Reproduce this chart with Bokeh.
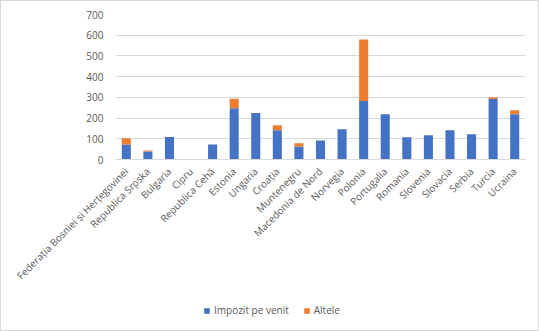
import math
from bokeh.plotting import figure
from bokeh.layouts import column
from bokeh.models import ColumnDataSource, FactorRange, Range1d, Legend, LegendItem, FixedTicker
from bokeh.embed import file_html
from bokeh.resources import INLINE

countries = ["Federația Bosniei și Herțegovinei", "Republica Srpska", "Bulgaria", "Cipru",
             "Republica Cehă", "Estonia", "Ungaria", "Croația", "Muntenegru",
             "Macedonia de Nord", "Norvegia", "Polonia", "Portugalia", "Romania",
             "Slovenia", "Slovacia", "Serbia", "Turcia", "Ucraina"]
impozit = [72, 39, 109, 0, 73, 248, 224, 141, 63, 92, 146, 282, 219, 107, 117, 141, 122, 292, 219]
altele = [30, 5, 0, 0, 0, 45, 0, 24, 15, 0, 0, 297, 0, 0, 0, 0, 0, 9, 19]
series = ["Impozit pe venit", "Altele"]
y_ticks = [0, 100, 200, 300, 400, 500, 600, 700]

BLUE = "#4472C4"
ORANGE = "#ED7D31"
GRAY = "#595959"
GRID = "#D9D9D9"
FONT = "Open Sans"

src = ColumnDataSource(dict(country=countries, impozit=impozit, altele=altele))

p = figure(width=537, height=298, output_backend="svg", toolbar_location=None,
           x_range=FactorRange(*countries, range_padding=0),
           y_range=Range1d(0, 700),
           min_border_left=114, min_border_right=13, min_border_top=13, min_border_bottom=140)

r = p.vbar_stack(["impozit", "altele"], x="country", width=0.42, source=src,
                 color=[BLUE, ORANGE], line_color=None)

p.outline_line_color = None
p.xgrid.grid_line_color = None
p.ygrid.grid_line_color = GRID
p.ygrid.grid_line_width = 1
p.yaxis.ticker = FixedTicker(ticks=y_ticks)
p.yaxis.axis_line_color = None
p.yaxis.major_tick_line_color = None
p.yaxis.minor_tick_line_color = None
p.yaxis.major_label_standoff = 6
p.xaxis.axis_line_color = GRID
p.xaxis.major_tick_line_color = None
p.xaxis.minor_tick_line_color = None
p.xaxis.major_label_orientation = math.pi / 4
p.xaxis.major_label_standoff = 4
for ax in (p.xaxis, p.yaxis):
    ax.major_label_text_color = GRAY
    ax.major_label_text_font = FONT
    ax.major_label_text_font_size = "10px"

# legend strip (zero-height proxy bars only carry the legend swatches)
lg = figure(width=537, height=31, output_backend="svg", toolbar_location=None,
            x_range=Range1d(0, 1), y_range=Range1d(0, 1),
            min_border=0)
lg.axis.visible = False
lg.grid.visible = False
lg.outline_line_color = None
g1 = lg.vbar(x=[0], top=[0], bottom=[0], width=0, fill_color=BLUE, line_color=None)
g2 = lg.vbar(x=[0], top=[0], bottom=[0], width=0, fill_color=ORANGE, line_color=None)
legend = Legend(items=[LegendItem(label=series[0], renderers=[g1], index=0),
                       LegendItem(label=series[1], renderers=[g2], index=0)],
                orientation="horizontal", location=(88, 13),
                label_text_font=FONT, label_text_font_size="10px", label_text_color=GRAY,
                glyph_width=7, glyph_height=7, spacing=14, padding=0, margin=0,
                label_standoff=4, background_fill_alpha=0, border_line_color=None)
lg.add_layout(legend, "center")

lay = column(p, lg, spacing=0)
lay.styles = {"border": "1px solid #D9D9D9"}

open("out.html", "w").write(file_html(lay, INLINE))
